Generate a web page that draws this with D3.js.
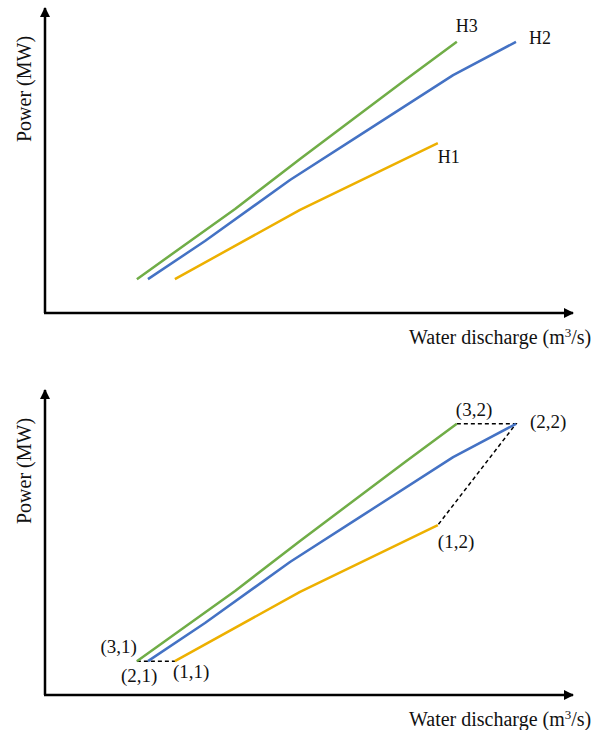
<!DOCTYPE html>
<html>
<head>
<meta charset="utf-8">
<script src="https://cdn.jsdelivr.net/npm/d3@7"></script>
<style>
  body { margin: 0; background: #fff; }
  text { font-family: "Liberation Serif", "Times New Roman", serif; fill: #111; }
</style>
</head>
<body>
<div id="content"></div>
<script>
// Canvas size
const width = 608;
const height = 730;

// Operating curves (discharge vs power), relative units 0-100
const h1Q = [24.6, 48.3, 74.4];
const h1P = [11.1, 33.8, 55.7];
const h2Q = [19.5, 30.3, 46.4, 59.7, 77.3, 89.2];
const h2P = [11.1, 23.6, 43.6, 58.4, 78.0, 88.9];
const h3Q = [17.4, 36.0, 48.3, 68.2, 78.0];
const h3P = [11.1, 34.1, 50.5, 76.4, 88.9];

const curveNames = ["H1", "H2", "H3"];
const colors = ["#EDB000", "#4472C4", "#70AD47"];

const curves = [[h1Q, h1P], [h2Q, h2P], [h3Q, h3P]].map(([q, p], i) => ({
  id: i + 1,
  name: curveNames[i],
  color: colors[i],
  pts: q.map((v, j) => ({ q: v, p: p[j] }))
}));

const yLabel = "Power (MW)";

const svg = d3.select("#content")
  .append("svg")
  .attr("width", width)
  .attr("height", height);

// Arrow head
svg.append("defs").append("marker")
  .attr("id", "arrow")
  .attr("viewBox", "0 0 10 10")
  .attr("refX", 9)
  .attr("refY", 5)
  .attr("markerUnits", "userSpaceOnUse")
  .attr("markerWidth", 11)
  .attr("markerHeight", 10)
  .attr("orient", "auto")
  .append("path")
  .attr("d", "M0,0 L10,5 L0,10 Z")
  .attr("fill", "#000");

function drawPanel(originY, labelled) {
  const x = d3.scaleLinear().domain([0, 100]).range([45, 573]);
  const y = d3.scaleLinear().domain([0, 100]).range([originY, originY - 305]);
  const g = svg.append("g");

  // Axes
  g.append("line")
    .attr("x1", x(0)).attr("y1", y(0))
    .attr("x2", x(0)).attr("y2", y(100))
    .attr("stroke", "#000").attr("stroke-width", 2.5)
    .attr("marker-end", "url(#arrow)");
  g.append("line")
    .attr("x1", x(0) - 1).attr("y1", y(0))
    .attr("x2", x(100)).attr("y2", y(0))
    .attr("stroke", "#000").attr("stroke-width", 2.5)
    .attr("marker-end", "url(#arrow)");

  g.append("text")
    .attr("transform", `translate(31,${y(0) - 224}) rotate(-90)`)
    .attr("text-anchor", "middle")
    .style("font-size", "20px")
    .text(yLabel);

  g.append("text")
    .attr("x", 409)
    .attr("y", y(0) + 31)
    .style("font-size", "20px")
    .html("Water discharge (m<tspan dy='-7' style='font-size:13px'>3</tspan><tspan dy='7'>/s)</tspan>");

  const line = d3.line().x(d => x(d.q)).y(d => y(d.p));

  if (labelled === "pairs") {
    // dashed links between first points and last points
    const firsts = [2, 1, 0].map(i => curves[i].pts[0]);
    const lasts = [2, 1, 0].map(i => curves[i].pts[curves[i].pts.length - 1]);
    [firsts, lasts].forEach(pts => {
      g.append("path")
        .attr("d", line(pts))
        .attr("fill", "none")
        .attr("stroke", "#000")
        .attr("stroke-width", 1.5)
        .attr("stroke-dasharray", "4,3");
    });
  }

  g.selectAll("path.curve")
    .data(curves)
    .enter().append("path")
    .attr("class", "curve")
    .attr("d", d => line(d.pts))
    .attr("fill", "none")
    .attr("stroke", d => d.color)
    .attr("stroke-width", 2.5)
    .attr("stroke-linejoin", "round");

  if (labelled === "names") {
    const off = { H1: [0, 20], H2: [13, 2], H3: [-1, -10] };
    g.selectAll("text.name")
      .data(curves)
      .enter().append("text")
      .attr("class", "name")
      .attr("x", d => x(d.pts[d.pts.length - 1].q) + off[d.name][0])
      .attr("y", d => y(d.pts[d.pts.length - 1].p) + off[d.name][1])
      .style("font-size", "18px")
      .text(d => d.name);
  } else {
    // (curve, point) labels at ends
    const labels = [
      { c: 2, end: 1, dx: -1, dy: -8, anchor: "start" },
      { c: 1, end: 1, dx: 14, dy: 4, anchor: "start" },
      { c: 0, end: 1, dx: 0, dy: 23, anchor: "start" },
      { c: 2, end: 0, dx: 0, dy: -8, anchor: "end" },
      { c: 1, end: 0, dx: -27, dy: 21, anchor: "start" },
      { c: 0, end: 0, dx: -2, dy: 17, anchor: "start" }
    ];
    g.selectAll("text.pair")
      .data(labels)
      .enter().append("text")
      .attr("class", "pair")
      .attr("x", d => {
        const pts = curves[d.c].pts;
        return x(d.end ? pts[pts.length - 1].q : pts[0].q) + d.dx;
      })
      .attr("y", d => {
        const pts = curves[d.c].pts;
        return y(d.end ? pts[pts.length - 1].p : pts[0].p) + d.dy;
      })
      .attr("text-anchor", d => d.anchor)
      .style("font-size", "19px")
      .text(d => `(${curves[d.c].id},${d.end + 1})`);
  }
}

drawPanel(313, "names");
drawPanel(695, "pairs");
</script>
</body>
</html>
